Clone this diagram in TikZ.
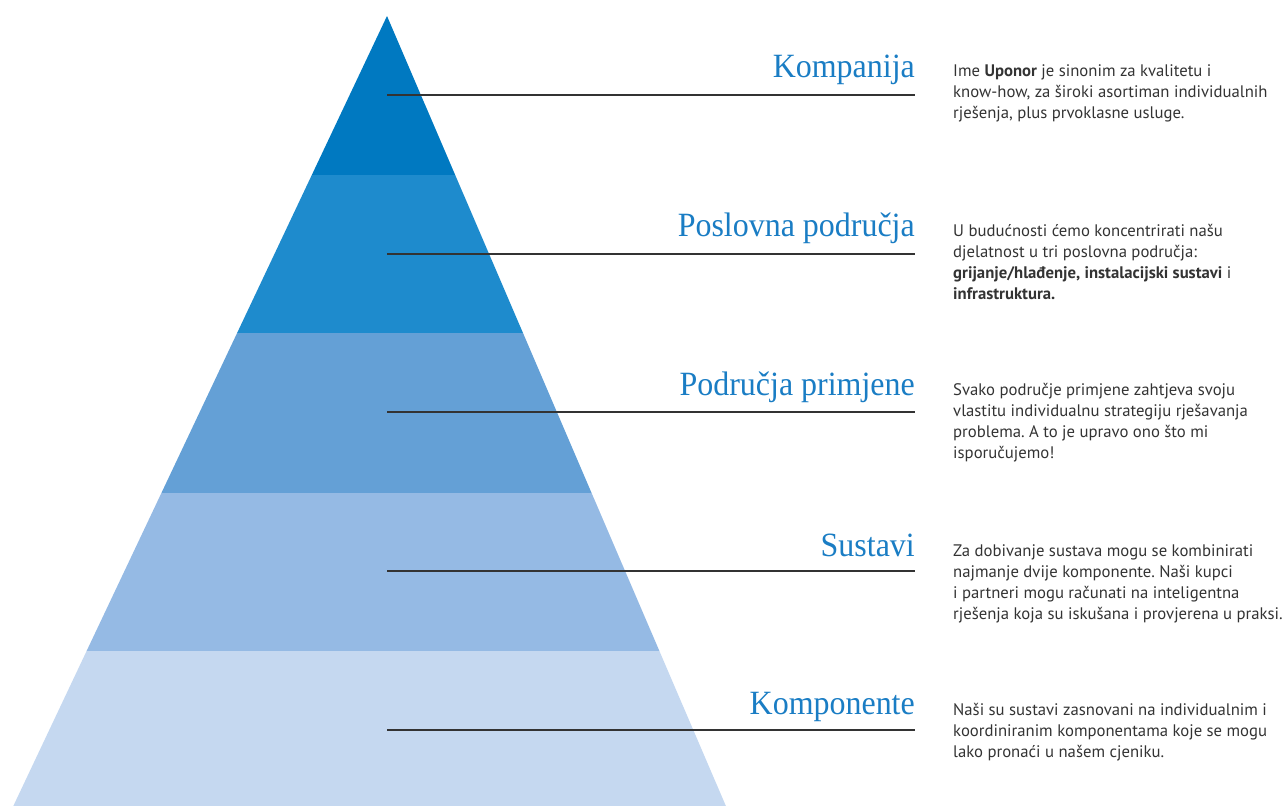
\documentclass[tikz,border=0pt]{standalone}
\usepackage{fontspec}
\setmainfont{PT Sans}
\newfontfamily\labelfont[FakeStretch=0.94]{Liberation Serif}
\frenchspacing
\definecolor{bandA}{HTML}{0079C1}
\definecolor{bandB}{HTML}{1E8BCD}
\definecolor{bandC}{HTML}{64A0D6}
\definecolor{bandD}{HTML}{95BAE4}
\definecolor{bandE}{HTML}{C5D8F0}
\definecolor{titleblue}{HTML}{1A7DC4}
\definecolor{bodygray}{HTML}{333333}

\tikzstyle{level} = [anchor=base east, inner sep=0pt, text=titleblue, font=\labelfont\fontsize{34}{40}\selectfont]
\tikzstyle{note} = [anchor=base west, inner sep=0pt, align=left, text=bodygray, font=\fontsize{16.7}{21}\selectfont]
\tikzstyle{rule} = [draw=bodygray, line width=1.3pt]

\begin{document}
\begin{tikzpicture}[x=1pt, y=-1pt]
	\useasboundingbox (0,0) rectangle (1288,806);
	% pyramid bands, top to bottom
	\fill[bandA] (387,16) -- (455.2,175) -- (311.8,175) -- cycle;
	\fill[bandB] (311.8,175) -- (455.2,175) -- (523.0,333) -- (237.1,333) -- cycle;
	\fill[bandC] (237.1,333) -- (523.0,333) -- (591.6,493) -- (161.4,493) -- cycle;
	\fill[bandD] (161.4,493) -- (591.6,493) -- (659.4,651) -- (86.6,651) -- cycle;
	\fill[bandE] (86.6,651) -- (659.4,651) -- (725.9,806) -- (13.3,806) -- cycle;

	% leader lines
	\coordinate (s1) at (387,95);  \coordinate (e1) at (915,95);
	\coordinate (s2) at (387,254); \coordinate (e2) at (915,254);
	\coordinate (s3) at (387,412); \coordinate (e3) at (915,412);
	\coordinate (s4) at (387,571); \coordinate (e4) at (915,571);
	\coordinate (s5) at (387,730); \coordinate (e5) at (915,730);
	\draw [rule] (s1) -- (e1);
	\draw [rule] (s2) -- (e2);
	\draw [rule] (s3) -- (e3);
	\draw [rule] (s4) -- (e4);
	\draw [rule] (s5) -- (e5);

	% level names
	\node (lev1) [level] at (915,77) {Kompanija};
	\node (lev2) [level] at (915,236) {Poslovna područja};
	\node (lev3) [level] at (915,395) {Područja primjene};
	\node (lev4) [level] at (915,556) {Sustavi};
	\node (lev5) [level] at (915,714) {Komponente};

	% descriptions (base = baseline of the last line)
	\node (txt1) [note] at (953,118) {Ime \textbf{Uponor} je sinonim za kvalitetu i\\know-how, za široki asortiman individualnih\\rješenja, plus prvoklasne usluge.};
	\node (txt2) [note] at (953,299) {U budućnosti ćemo koncentrirati našu\\djelatnost u tri poslovna područja:\\\textbf{grijanje/hlađenje, instalacijski sustavi} i\\\textbf{infrastruktura.}};
	\node (txt3) [note] at (953,458) {Svako područje primjene zahtjeva svoju\\vlastitu individualnu strategiju rješavanja\\problema. A to je upravo ono što mi\\isporučujemo!};
	\node (txt4) [note] at (953,619) {Za dobivanje sustava mogu se kombinirati\\najmanje dvije komponente. Naši kupci\\i partneri mogu računati na inteligentna\\rješenja koja su iskušana i provjerena u praksi.};
	\node (txt5) [note] at (953,757) {Naši su sustavi zasnovani na individualnim i\\koordiniranim komponentama koje se mogu\\lako pronaći u našem cjeniku.};
\end{tikzpicture}
\end{document}
